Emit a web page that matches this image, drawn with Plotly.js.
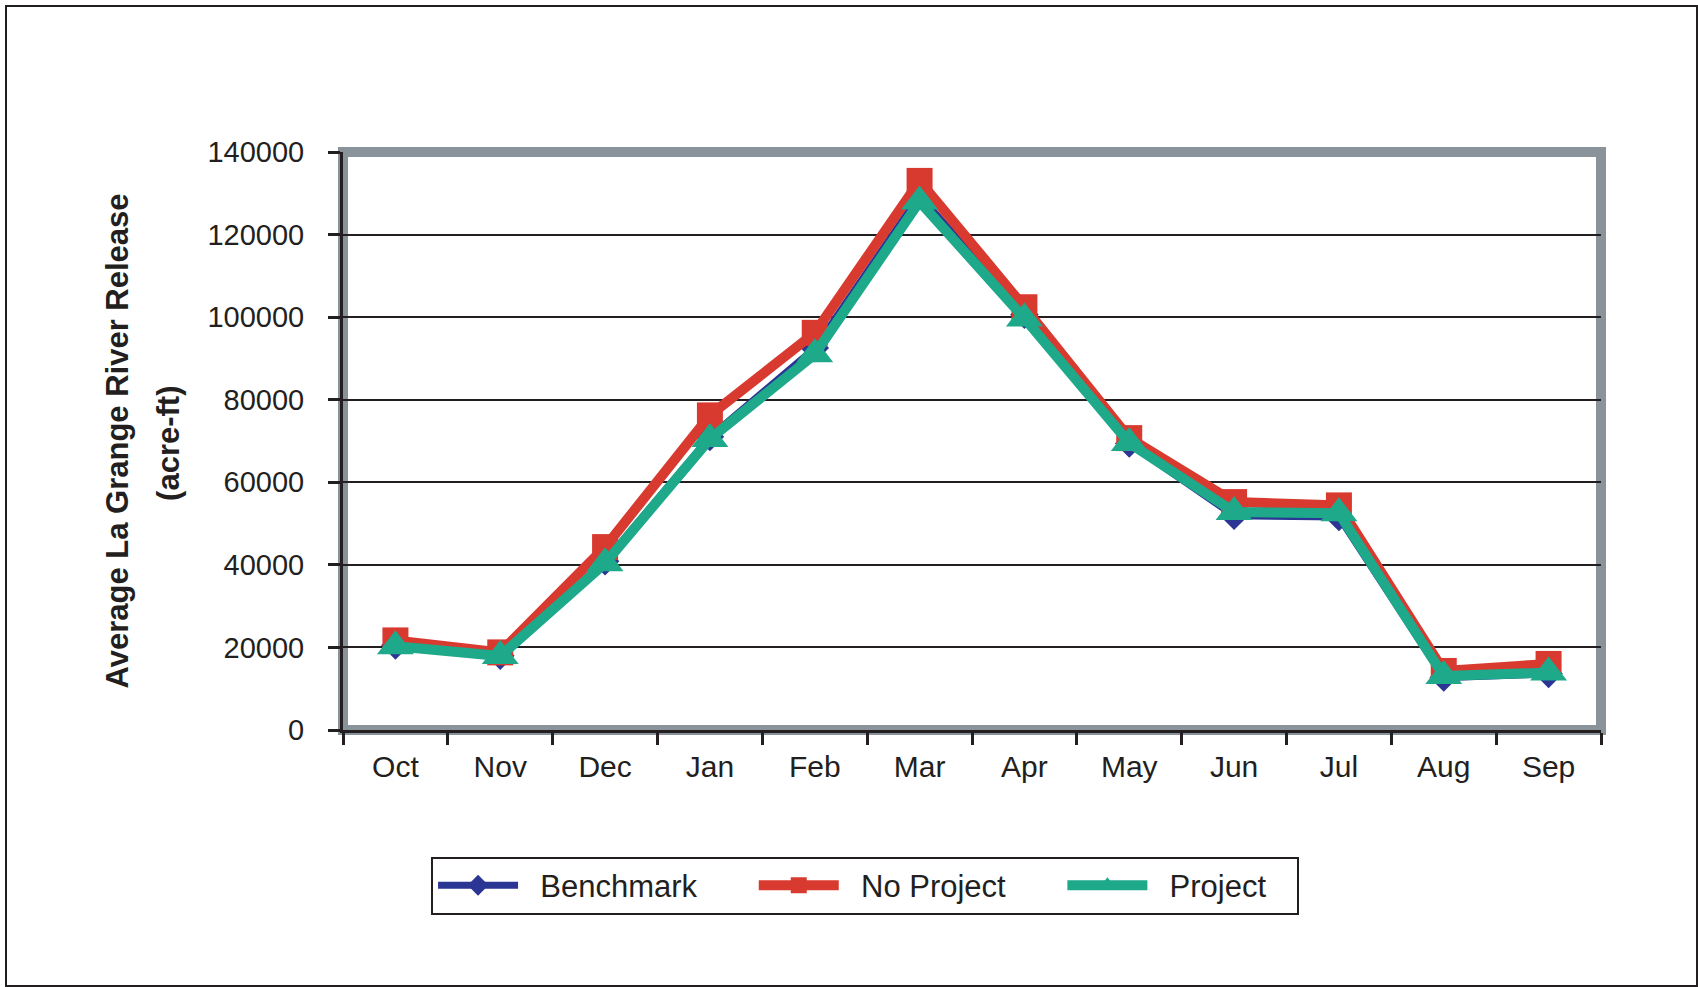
<!DOCTYPE html>
<html>
<head>
<meta charset="utf-8">
<script src="https://cdn.plot.ly/plotly-3.0.1.min.js"></script>
<style>
  html, body { margin: 0; padding: 0; background: #ffffff; }
  #wrap { position: relative; width: 1698px; height: 987px; }
  #chart { width: 1698px; height: 987px; }
  #frame { position: absolute; left: 5px; top: 5px; width: 1693px; height: 982px;
           box-sizing: border-box; border: 2px solid #231f20; pointer-events: none; }
</style>
</head>
<body>
<div id="wrap">
  <div id="chart"></div>
  <div id="frame"></div>
</div>
<script>
// Categories (water year months)
const months = ['Oct', 'Nov', 'Dec', 'Jan', 'Feb', 'Mar', 'Apr', 'May', 'Jun', 'Jul', 'Aug', 'Sep'];

// Series values (acre-ft)
const benchmark = [20500, 18000, 40900, 71000, 92500, 129500, 100600, 69400, 51900, 51600, 12700, 13600];
const noProject = [21700, 18800, 44300, 76200, 96200, 133000, 102400, 70700, 55200, 54400, 14300, 16000];
const project   = [20300, 17900, 40400, 70500, 91000, 128000, 99700, 69500, 52800, 52500, 13100, 13900];

// Series names
const seriesNames = ['Benchmark', 'No Project', 'Project'];

// Y tick values
const yTicks = [0, 20000, 40000, 60000, 80000, 100000, 120000, 140000];

const ink = '#231f20';
const NB = '\u00a0';
function legendName(name, trailing) { return NB.repeat(2) + name + NB.repeat(trailing); }

const traces = [
  {
    x: months, y: benchmark, name: legendName(seriesNames[0], 6),
    type: 'scatter', mode: 'lines+markers',
    line: { color: '#2b3593', width: 7 },
    marker: { symbol: 'diamond', size: 22, color: '#2b3593' }
  },
  {
    x: months, y: noProject, name: legendName(seriesNames[1], 6),
    type: 'scatter', mode: 'lines+markers',
    line: { color: '#d83a30', width: 10 },
    marker: { symbol: 'square', size: 26, color: '#d83a30' }
  },
  {
    x: months, y: project, name: legendName(seriesNames[2], 3),
    type: 'scatter', mode: 'lines+markers',
    line: { color: '#1da98a', width: 10 },
    marker: { symbol: 'triangle-up', size: 32, color: '#1da98a' }
  }
];

const layout = {
  width: 1698,
  height: 987,
  paper_bgcolor: '#ffffff',
  plot_bgcolor: '#ffffff',
  margin: { l: 343, r: 97, t: 152, b: 257 },
  font: { family: 'Liberation Sans, Arial, sans-serif', color: ink },
  showlegend: true,
  legend: {
    orientation: 'h',
    x: 0.07, xanchor: 'left',
    y: -0.219, yanchor: 'top',
    bordercolor: ink, borderwidth: 2,
    bgcolor: '#ffffff',
    font: { size: 31, color: ink, family: 'Liberation Sans, Arial, sans-serif' },
    itemwidth: 80,
    traceorder: 'normal'
  },
  xaxis: {
    type: 'category',
    categoryorder: 'array', categoryarray: months,
    range: [-0.5, months.length - 0.5],
    tickson: 'boundaries',
    ticks: 'outside', ticklen: 12, tickwidth: 3, tickcolor: ink,
    showline: true, linecolor: ink, linewidth: 3,
    showgrid: false, zeroline: false,
    tickfont: { size: 30, color: ink },
    ticklabelstandoff: 8,
    fixedrange: true
  },
  yaxis: {
    range: [0, 140000],
    tickvals: yTicks,
    ticktext: yTicks.map(String),
    ticks: 'outside', ticklen: 12, tickwidth: 3, tickcolor: ink,
    showline: true, linecolor: ink, linewidth: 3,
    showgrid: true, gridcolor: ink, gridwidth: 2,
    zeroline: false,
    tickfont: { size: 29, color: ink },
    ticklabelstandoff: 18,
    title: {
      text: '<b>Average La Grange River Release</b>',
      font: { size: 31, color: ink },
      standoff: 70
    },
    automargin: false,
    fixedrange: true
  },
  annotations: [
    {
      text: '<b>(acre-ft)</b>',
      xref: 'paper', yref: 'paper',
      x: -0.1383, y: 0.495,
      xanchor: 'center', yanchor: 'middle',
      textangle: -90,
      showarrow: false,
      font: { size: 31, color: ink }
    }
  ],
  shapes: [
    {
      type: 'rect', xref: 'x domain', yref: 'y domain',
      x0: 0, x1: 1, y0: 0, y1: 1,
      line: { color: '#8a939a', width: 10 },
      fillcolor: 'rgba(0,0,0,0)',
      layer: 'below'
    }
  ]
};

Plotly.newPlot('chart', traces, layout, { displayModeBar: false, staticPlot: true });
</script>
</body>
</html>
